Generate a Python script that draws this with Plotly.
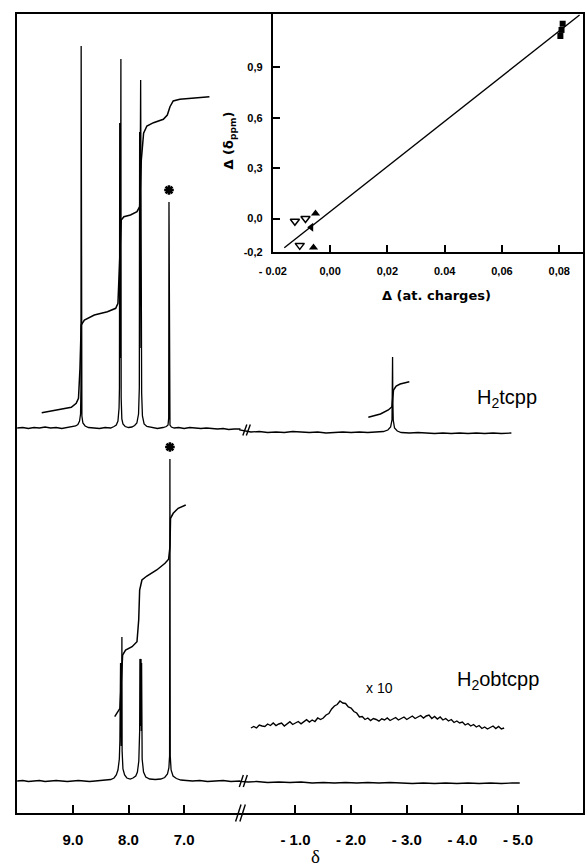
import plotly.graph_objects as go

# ----------------------------- data -----------------------------
# 1H NMR, H2tcpp (upper trace): (chemical shift / ppm, intensity above its baseline)
tcpp_spectrum = [
    (10.00, 0), (9.90, 0.5), (9.80, -0.5), (9.70, 0.5), (9.60, 0), (9.50, 1), (9.40, 0),
    (9.30, 0.5), (9.20, -0.5), (9.10, 0.5), (9.00, 1), (8.95, 2), (8.91, 3.5), (8.88, 7),
    (8.862, 14), (8.855, 40), (8.851, 382), (8.847, 40), (8.838, 12), (8.82, 5), (8.78, 2),
    (8.72, 0.5), (8.62, 0), (8.52, -0.5), (8.42, 0.5), (8.32, 0), (8.26, 1.5), (8.22, 3),
    (8.19, 7), (8.17, 20), (8.163, 40), (8.158, 305), (8.154, 60), (8.150, 300), (8.146, 70),
    (8.142, 290), (8.137, 369), (8.132, 30), (8.12, 9), (8.10, 4), (8.06, 1.5), (8.00, 0.5),
    (7.94, 1), (7.89, 2.5), (7.85, 5), (7.82, 14), (7.806, 40), (7.800, 296), (7.794, 80),
    (7.788, 280), (7.782, 348), (7.776, 90), (7.770, 290), (7.764, 35), (7.75, 12), (7.72, 4),
    (7.67, 1.5), (7.58, 0.5), (7.48, -0.5), (7.38, 0.5), (7.32, 1.5), (7.29, 3), (7.278, 10),
    (7.273, 226), (7.268, 10), (7.255, 3), (7.23, 1), (7.18, 0), (7.10, 0.5), (7.00, -0.5),
    (6.90, 0.5), (6.80, 0), (6.70, -0.5), (6.60, 0), (6.50, -0.5), (6.40, -1), (6.30, -0.5),
    (6.20, -1.5), (6.10, -1), (6.00, -1),
    (0.00, -2), (-0.10, -3), (-0.20, -4), (-0.35, -3.5), (-0.50, -4.5), (-0.65, -4),
    (-0.80, -4.5), (-0.95, -3.5), (-1.10, -4), (-1.25, -4.5), (-1.40, -4), (-1.55, -5),
    (-1.70, -4.5), (-1.85, -4), (-2.00, -4.5), (-2.15, -4), (-2.30, -4.5), (-2.45, -4),
    (-2.58, -3.5), (-2.66, -2), (-2.71, 1), (-2.735, 8), (-2.741, 30), (-2.745, 71),
    (-2.749, 30), (-2.757, 8), (-2.78, 0), (-2.83, -3), (-2.90, -4.5), (-3.05, -5),
    (-3.20, -4.5), (-3.35, -5), (-3.50, -5.5), (-3.65, -5), (-3.80, -5.5), (-3.95, -5),
    (-4.10, -5.5), (-4.25, -5), (-4.40, -5.5), (-4.55, -5), (-4.70, -5.5), (-4.88, -5),
]
# integral curves of the upper trace
tcpp_integral_low = [
    (9.560, 15.3), (9.266, 18), (9.028, 20.7), (8.940, 24.7), (8.899, 29.7), (8.872, 60),
    (8.851, 103), (8.793, 108), (8.615, 113), (8.379, 116.3), (8.230, 119.7), (8.190, 124.7),
    (8.160, 161.3), (8.131, 208), (8.083, 211.3), (7.965, 213), (7.848, 216.3), (7.800, 221.3),
    (7.770, 268), (7.729, 294.7), (7.670, 302), (7.551, 305.3), (7.374, 308.7), (7.303, 313),
    (7.255, 321.3), (7.197, 327), (7.078, 328.7), (6.546, 331.3),
]
tcpp_integral_nh = [
    (-2.309, 10.7), (-2.527, 14), (-2.669, 18), (-2.734, 21.3), (-2.748, 30), (-2.762, 38),
    (-2.810, 42), (-2.881, 44), (-3.046, 46.3),
]

# 1H NMR, H2obtcpp (lower trace)
obtcpp_spectrum = [
    (10.00, 0), (9.90, 0.5), (9.80, -0.5), (9.70, 0), (9.60, 0.5), (9.50, -0.5), (9.40, 0),
    (9.30, 0.5), (9.20, 0), (9.10, -0.5), (9.00, 0), (8.90, 0.5), (8.80, 0), (8.70, -0.5),
    (8.60, 0), (8.50, 0.5), (8.40, 1), (8.32, 1.5), (8.26, 3), (8.22, 6), (8.19, 11),
    (8.165, 22), (8.155, 40), (8.151, 118), (8.147, 50), (8.143, 118), (8.139, 50),
    (8.135, 116), (8.130, 35), (8.123, 45), (8.119, 144), (8.115, 30), (8.10, 12), (8.07, 6),
    (8.03, 3), (7.97, 2), (7.92, 3), (7.87, 5), (7.84, 9), (7.815, 20), (7.800, 50),
    (7.795, 122), (7.790, 55), (7.785, 120), (7.780, 55), (7.775, 122), (7.770, 50),
    (7.765, 118), (7.755, 22), (7.73, 9), (7.69, 4), (7.62, 2), (7.52, 1.5), (7.42, 2),
    (7.35, 3.5), (7.30, 7), (7.275, 13), (7.262, 25), (7.256, 322), (7.250, 25), (7.235, 11),
    (7.20, 5), (7.14, 2.5), (7.06, 1), (6.96, 0.5), (6.85, 0), (6.72, 0.5), (6.58, -0.5),
    (6.44, 0), (6.30, 0.5), (6.16, -0.5), (6.00, 0),
    (0.00, -0.5), (-0.15, -1), (-0.30, -0.5), (-0.50, -1.5), (-0.70, -1), (-0.90, -1.5),
    (-1.10, -1), (-1.30, -2), (-1.50, -1.5), (-1.70, -2), (-1.90, -1.5), (-2.10, -2),
    (-2.30, -1.5), (-2.50, -2), (-2.70, -1.5), (-2.90, -2), (-3.10, -2.5), (-3.30, -2),
    (-3.50, -2.5), (-3.70, -2), (-3.90, -2.5), (-4.10, -2), (-4.30, -2.5), (-4.50, -2),
    (-4.70, -2.5), (-4.90, -2), (-5.03, -2),
]
obtcpp_integral = [
    (8.248, 64.3), (8.202, 68.3), (8.154, 72.7), (8.106, 126), (8.053, 131), (7.936, 134.3),
    (7.848, 139.3), (7.817, 161), (7.800, 191), (7.759, 201), (7.670, 205), (7.493, 211),
    (7.344, 217.7), (7.280, 221.7), (7.255, 234.3), (7.245, 262.7), (7.197, 267.7),
    (7.108, 272.7), (6.972, 276),
]
# x10 expansion of the NH region of H2obtcpp
obtcpp_x10 = [
    (-0.20, 0), (-0.25, 1.5), (-0.30, 0), (-0.35, 3), (-0.40, 2), (-0.45, 1.5), (-0.50, 4),
    (-0.55, 2.5), (-0.60, 5), (-0.65, 2.4), (-0.70, 4), (-0.75, 5), (-0.80, 2), (-0.85, 4.5),
    (-0.90, 6.3), (-0.95, 3.5), (-1.00, 5), (-1.05, 6.5), (-1.10, 4.2), (-1.15, 6.5),
    (-1.20, 8.3), (-1.25, 6), (-1.30, 8), (-1.35, 6.5), (-1.40, 10), (-1.45, 8.5),
    (-1.50, 10), (-1.55, 13), (-1.60, 14.5), (-1.65, 19), (-1.70, 22), (-1.75, 23.5),
    (-1.80, 27), (-1.85, 25), (-1.90, 24.5), (-1.95, 21), (-2.00, 20), (-2.05, 16.5),
    (-2.10, 15), (-2.15, 11), (-2.20, 11.5), (-2.25, 8.5), (-2.30, 10), (-2.35, 7.5),
    (-2.40, 9.5), (-2.45, 8.5), (-2.50, 6.8), (-2.55, 9.2), (-2.60, 8), (-2.65, 10),
    (-2.70, 7.5), (-2.75, 9), (-2.80, 10.5), (-2.85, 8), (-2.90, 9.5), (-2.95, 11),
    (-3.00, 8.5), (-3.05, 10.5), (-3.10, 12), (-3.15, 9.5), (-3.20, 11), (-3.25, 12.5),
    (-3.30, 10), (-3.35, 12), (-3.40, 13), (-3.45, 9.5), (-3.50, 11.5), (-3.55, 9),
    (-3.60, 11), (-3.65, 8), (-3.70, 9.5), (-3.75, 7), (-3.80, 8.5), (-3.85, 5.5),
    (-3.90, 7), (-3.95, 5), (-4.00, 6), (-4.05, 3), (-4.10, 4.5), (-4.15, 2), (-4.20, 3.5),
    (-4.25, 1), (-4.30, 2.5), (-4.35, -0.5), (-4.40, 1), (-4.45, -1), (-4.50, 0.5),
    (-4.55, 2), (-4.60, -0.5), (-4.65, 1.5), (-4.70, -1), (-4.75, 0),
]

# main axis ticks
shift_ticks = [9.0, 8.0, 7.0, -1.0, -2.0, -3.0, -4.0, -5.0]
shift_tick_text = ["9.0", "8.0", "7.0", "- 1.0", "- 2.0", "- 3.0", "- 4.0", "- 5.0"]

# inset: Δ(δ ppm) vs Δ(atomic charges)
fit_x = [-0.016, 0.0871]
fit_y = [-0.174, 1.212]
open_down_x = [-0.0123, -0.0086, -0.0106]
open_down_y = [-0.016, 0.000, -0.160]
filled_up_x = [-0.0051, -0.0058]
filled_up_y = [0.030, -0.172]
filled_left_x = [-0.0066]
filled_left_y = [-0.052]
square_x = [0.0812, 0.0808, 0.0804]
square_y = [1.160, 1.123, 1.087]
inset_x_ticks = [-0.02, 0.00, 0.02, 0.04, 0.06, 0.08]
inset_x_text = ["- 0.02", "0,00", "0,02", "0.04", "0,06", "0,08"]
inset_y_ticks = [-0.2, 0.0, 0.3, 0.6, 0.9]
inset_y_text = ["-0,2", "0,0", "0,3", "0,6", "0,9"]

# ----------------------------- helpers -----------------------------
TOP_BASE = 385     # vertical offsets of the stacked traces (axis units)
BOT_BASE = 32
X10_BASE = 85


def axis_pos(d):
    """broken shift axis: 10..6 ppm then 0..-6 ppm"""
    return d if d > 3 else d + 6


def xy(pairs, base):
    return [axis_pos(p[0]) for p in pairs], [base + p[1] for p in pairs]


fig = go.Figure()

for pairs, base, w in [(tcpp_spectrum, TOP_BASE, 1.3), (tcpp_integral_low, TOP_BASE, 1.5),
                       (tcpp_integral_nh, TOP_BASE, 1.5), (obtcpp_spectrum, BOT_BASE, 1.3),
                       (obtcpp_integral, BOT_BASE, 1.5), (obtcpp_x10, X10_BASE, 1.4)]:
    x, y = xy(pairs, base)
    fig.add_trace(go.Scatter(x=x, y=y, mode="lines", line=dict(color="black", width=w),
                             hoverinfo="skip"))

# asterisks above the CHCl3 lines
for pairs, base in [(tcpp_spectrum, TOP_BASE), (obtcpp_spectrum, BOT_BASE)]:
    solv = [p for p in pairs if 7.2 < p[0] < 7.35]
    top = max(solv, key=lambda p: p[1])
    fig.add_trace(go.Scatter(x=[axis_pos(top[0])], y=[base + top[1] + 12], mode="markers",
                             marker=dict(symbol="asterisk", size=8, color="black",
                                         line=dict(color="black", width=2.6)),
                             hoverinfo="skip"))

# inset traces
fig.add_trace(go.Scatter(x=fit_x, y=fit_y, mode="lines", line=dict(color="black", width=1.4),
                         xaxis="x2", yaxis="y2", hoverinfo="skip"))
fig.add_trace(go.Scatter(x=open_down_x, y=open_down_y, mode="markers", xaxis="x2", yaxis="y2",
                         marker=dict(symbol="triangle-down-open", size=8, color="black",
                                     line=dict(width=1.5, color="black")),
                         cliponaxis=False, hoverinfo="skip"))
fig.add_trace(go.Scatter(x=filled_up_x, y=filled_up_y, mode="markers", xaxis="x2", yaxis="y2",
                         marker=dict(symbol="triangle-up", size=8, color="black"),
                         cliponaxis=False, hoverinfo="skip"))
fig.add_trace(go.Scatter(x=filled_left_x, y=filled_left_y, mode="markers", xaxis="x2",
                         yaxis="y2", marker=dict(symbol="triangle-left", size=8, color="black"),
                         cliponaxis=False, hoverinfo="skip"))
fig.add_trace(go.Scatter(x=square_x, y=square_y, mode="markers", xaxis="x2", yaxis="y2",
                         marker=dict(symbol="square", size=6, color="black"),
                         cliponaxis=False, hoverinfo="skip"))


# axis-break marks "//"
def brk(xc, yc, yref, dxs, w, h):
    for dx in dxs:
        fig.add_shape(type="line", xref="x", yref=yref, xsizemode="pixel", ysizemode="pixel",
                      xanchor=xc, yanchor=yc, x0=dx - w / 2, x1=dx + w / 2, y0=-h / 2,
                      y1=h / 2, line=dict(color="black", width=1.4))


brk(6.0, 0, "paper", [-1.5, 2.8], 5.4, 17)
brk(6.0, TOP_BASE - 2, "y", [5.0, 8.5], 4, 11)
brk(6.0, BOT_BASE, "y", [1.5, 5.5], 4, 12)

SANS = "Liberation Sans, Arial, sans-serif"
ann = [
    dict(x=1.207, y=414.7, xref="x", yref="y", text="H<sub>2</sub>tcpp",
         font=dict(family=SANS, size=20, color="black")),
    dict(x=1.36, y=133, xref="x", yref="y", text="H<sub>2</sub>obtcpp",
         font=dict(family=SANS, size=20, color="black")),
    dict(x=3.49, y=125, xref="x", yref="y", text="x 10",
         font=dict(family=SANS, size=14, color="black")),
    dict(x=4.644, y=-0.054, xref="x", yref="paper", text="δ",
         font=dict(family="Liberation Serif, serif", size=19, color="black")),
    dict(x=0.741, y=0.648, xref="paper", yref="paper", text="Δ (at. charges)",
         font=dict(family="DejaVu Sans, sans-serif", size=13, color="black", weight="bold")),
    dict(x=0.375, y=0.842, xref="paper", yref="paper", text="Δ (δ<sub>ppm</sub>)",
         textangle=-90,
         font=dict(family="DejaVu Sans, sans-serif", size=13, color="black", weight="bold")),
]
for a in ann:
    a.update(showarrow=False, xanchor="center", yanchor="middle")

fig.update_layout(
    width=588, height=866, margin=dict(l=12, r=3, t=14, b=53),
    paper_bgcolor="white", plot_bgcolor="white", showlegend=False,
    annotations=ann,
    xaxis=dict(domain=[0, 1], range=[10.004, -0.167], showline=True, mirror=True,
               linecolor="black", linewidth=2, ticks="inside", ticklen=8, tickwidth=1.5,
               tickcolor="black", tickvals=[axis_pos(t) for t in shift_ticks],
               ticktext=shift_tick_text, ticklabelstandoff=12,
               tickfont=dict(family=SANS, size=15, color="black", weight="bold"),
               showgrid=False, zeroline=False, fixedrange=True),
    yaxis=dict(domain=[0, 1], range=[0, 799], showline=True, mirror=True, linecolor="black",
               linewidth=2, showticklabels=False, ticks="", showgrid=False, zeroline=False,
               fixedrange=True),
    xaxis2=dict(domain=[0.452, 1.0], anchor="y2", range=[-0.02, 0.0883], showline=True,
                linecolor="black", linewidth=2, ticks="inside", ticklen=7, tickwidth=1.5,
                tickcolor="black", tickvals=inset_x_ticks, ticktext=inset_x_text,
                ticklabelstandoff=8,
                tickfont=dict(family=SANS, size=11, color="black", weight="bold"),
                showgrid=False, zeroline=False, fixedrange=True),
    yaxis2=dict(domain=[0.702, 1.0], anchor="x2", range=[-0.2, 1.218], showline=True,
                linecolor="black", linewidth=2, ticks="inside", ticklen=7, tickwidth=1.5,
                tickcolor="black", tickvals=inset_y_ticks, ticktext=inset_y_text,
                ticklabelstandoff=6,
                tickfont=dict(family=SANS, size=11, color="black", weight="bold"),
                showgrid=False, zeroline=False, fixedrange=True),
)

fig.write_html("out.html", config={"displayModeBar": False})
